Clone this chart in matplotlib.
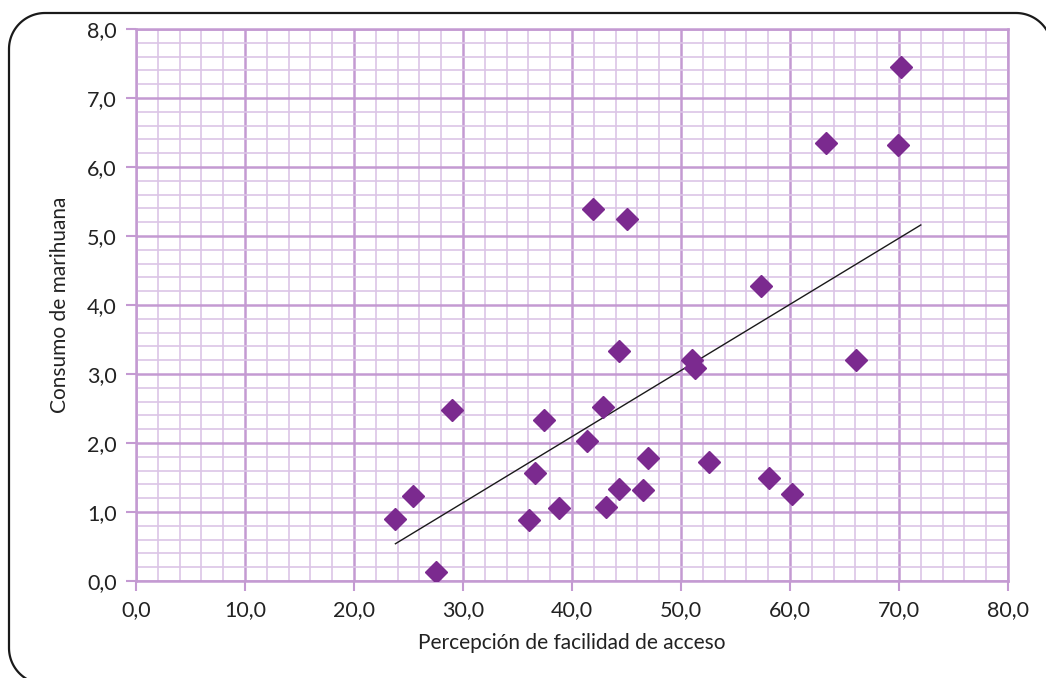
import matplotlib
matplotlib.use('Agg')
import matplotlib.pyplot as plt
from matplotlib.lines import Line2D
import numpy as np

plt.rcParams['font.family'] = ['Lato', 'DejaVu Sans']

# percepcion de facilidad de acceso vs consumo de marihuana
acceso = [23.8, 25.4, 27.5, 29.0, 36.1, 36.6, 37.4, 38.8, 41.4, 41.9,
          42.8, 43.1, 44.3, 44.3, 45.0, 46.5, 47.0, 51.0, 51.3, 52.6,
          57.3, 58.1, 60.2, 63.3, 66.1, 69.9, 70.2]
consumo = [0.90, 1.23, 0.13, 2.48, 0.88, 1.57, 2.33, 1.06, 2.03, 5.39,
           2.52, 1.07, 1.33, 3.33, 5.25, 1.32, 1.78, 3.20, 3.09, 1.72,
           4.28, 1.49, 1.26, 6.35, 3.20, 6.32, 7.45]

# linea de tendencia (extremos)
trend_x = [23.8, 72.0]
trend_y = [0.54, 5.16]

x_ticks = [0, 10, 20, 30, 40, 50, 60, 70, 80]
x_labels = ['0,0', '10,0', '20,0', '30,0', '40,0', '50,0', '60,0', '70,0', '80,0']
y_ticks = [0, 1, 2, 3, 4, 5, 6, 7, 8]
y_labels = ['0,0', '1,0', '2,0', '3,0', '4,0', '5,0', '6,0', '7,0', '8,0']

major_c = '#C49AD2'
minor_c = '#DCC5E6'
W, H = 1046, 678

fig = plt.figure(figsize=(W / 100, H / 100), dpi=100)
ax = fig.add_axes([136 / W, 1 - 581 / H, 872 / W, 552 / H])

ax.set_xlim(0, 80)
ax.set_ylim(0, 8)
ax.set_xticks(x_ticks)
ax.set_xticklabels(x_labels, fontsize=15.5)
ax.set_yticks(y_ticks)
ax.set_yticklabels(y_labels, fontsize=15.5)
ax.set_xticks(np.arange(0, 81, 2), minor=True)
ax.set_yticks(np.arange(0, 8.01, 0.2), minor=True)

ax.grid(True, which='minor', color=minor_c, linewidth=1.2)
ax.grid(True, which='major', color=major_c, linewidth=1.8)
ax.set_axisbelow(True)
ax.tick_params(which='major', length=7, width=1.5, color=major_c, labelcolor='#222222', pad=7)
ax.tick_params(which='minor', length=0)
for s in ax.spines.values():
    s.set_color(major_c)
    s.set_linewidth(1.8)

ax.plot(trend_x, trend_y, color='#1a1a1a', linewidth=1.0, zorder=3)
ax.plot(acceso, consumo, linestyle='none', marker='D', markersize=11,
        color='#7B2A8F', zorder=4)

ax.set_xlabel('Percepción de facilidad de acceso', fontsize=15, color='#222222', labelpad=9)
ax.set_ylabel('Consumo de marihuana', fontsize=15, color='#222222', labelpad=12)


# marco redondeado (en pixeles, origen arriba a la izquierda)
def arc(cx, cy, r, a0, a1):
    t = np.radians(np.linspace(a0, a1, 30))
    return list(cx + r * np.cos(t)), list(cy - r * np.sin(t))


r = 36
left, top, right, bottom = 9, 13, 1052, 684
px, py = [], []
ax_, ay_ = arc(left + r, bottom - r, r, 270, 180)
px += ax_; py += ay_
ax_, ay_ = arc(left + r, top + r, r, 180, 90)
px += ax_; py += ay_
ax_, ay_ = arc(right - r, top + r, r, 90, 0)
px += ax_; py += ay_
px += [right]; py += [bottom + 20]
px = [left + r + 30] + px
py = [bottom] + py
fig.lines.append(Line2D(np.array(px) / W, 1 - np.array(py) / H,
                        transform=fig.transFigure, color='#1a1a1a',
                        linewidth=1.6, clip_on=False))

fig.savefig('out.png', dpi=100)
